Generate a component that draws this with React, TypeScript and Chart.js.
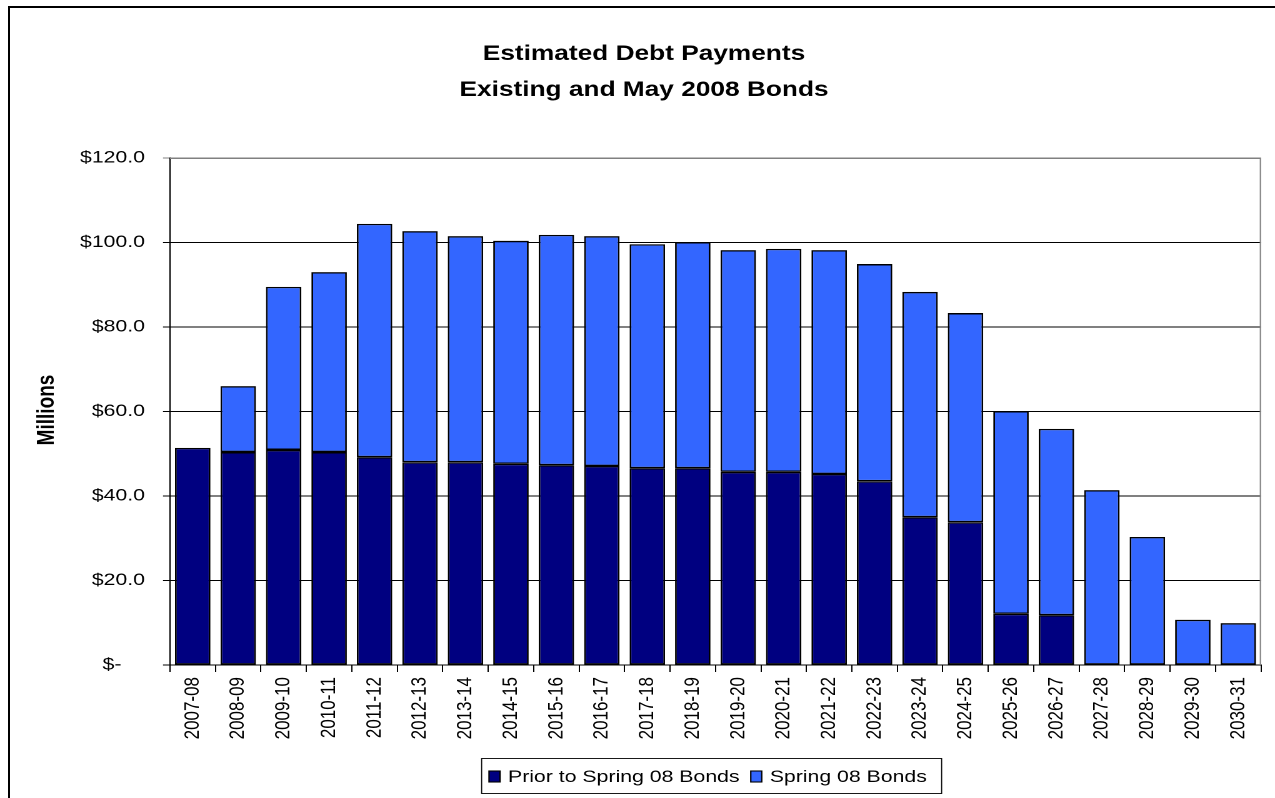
import React, { useEffect, useRef } from 'react';
import { Chart, registerables } from 'chart.js';

Chart.register(...registerables);

const categories = [
  '2007-08', '2008-09', '2009-10', '2010-11', '2011-12', '2012-13', '2013-14', '2014-15',
  '2015-16', '2016-17', '2017-18', '2018-19', '2019-20', '2020-21', '2021-22', '2022-23',
  '2023-24', '2024-25', '2025-26', '2026-27', '2027-28', '2028-29', '2029-30', '2030-31',
];
const priorBonds = [
  51.4, 50.4, 50.9, 50.4, 49.2, 48.0, 48.0, 47.6, 47.3, 47.1, 46.6, 46.6,
  45.7, 45.7, 45.2, 43.5, 35.0, 33.8, 12.1, 11.8, 0, 0, 0, 0,
];
const springBonds = [
  0, 15.6, 38.6, 42.6, 55.2, 54.7, 53.5, 52.8, 54.5, 54.4, 53.0, 53.5,
  52.5, 52.8, 53.0, 51.4, 53.3, 49.5, 48.0, 44.1, 41.4, 30.3, 10.7, 9.9,
];
const seriesNames = ['Prior to Spring 08 Bonds', 'Spring 08 Bonds'];
const seriesColors = ['#000080', '#3366FF'];
const titleLines = ['Estimated Debt Payments', 'Existing and May 2008 Bonds'];
const yAxisTitle = 'Millions';
const yMin = 0;
const yMax = 120;
const yStep = 20;

const SX = 1.25;
const W = 1020;
const H = 798;
const FONT = 'Arial, "Liberation Sans", sans-serif';

const decor = {
  id: 'decor',
  afterDraw(chart: any) {
    const ctx = chart.ctx as CanvasRenderingContext2D;
    const a = chart.chartArea;
    ctx.save();
    // plot area top/right border
    ctx.strokeStyle = '#808080';
    ctx.lineWidth = 1;
    ctx.beginPath();
    ctx.moveTo(a.left, a.top + 0.5);
    ctx.lineTo(a.right - 0.5, a.top + 0.5);
    ctx.lineTo(a.right - 0.5, a.bottom);
    ctx.stroke();

    // title
    ctx.fillStyle = '#000';
    ctx.font = `bold 21px ${FONT}`;
    ctx.textAlign = 'center';
    ctx.textBaseline = 'alphabetic';
    ctx.fillText(titleLines[0], 515.2, 60);
    ctx.fillText(titleLines[1], 515.2, 96);

    // y axis title
    ctx.save();
    ctx.translate(37.6, 410);
    ctx.rotate(-Math.PI / 2);
    ctx.font = `bold 19px ${FONT}`;
    ctx.textAlign = 'center';
    ctx.textBaseline = 'middle';
    ctx.fillText(yAxisTitle, 0, 0);
    ctx.restore();

    // legend
    const bx = 385.3, by = 758.5, bw = 368, bh = 35;
    ctx.strokeStyle = '#000';
    ctx.lineWidth = 0.9;
    ctx.strokeRect(bx, by, bw, bh);
    ctx.font = `17px ${FONT}`;
    ctx.textAlign = 'left';
    ctx.textBaseline = 'alphabetic';
    let x = 391.2;
    seriesNames.forEach((name, i) => {
      ctx.fillStyle = seriesColors[i];
      ctx.fillRect(x, 771, 8.8, 11);
      ctx.strokeStyle = '#000';
      ctx.lineWidth = 1.1;
      ctx.strokeRect(x, 771, 8.8, 11);
      ctx.fillStyle = '#000';
      ctx.fillText(name, x + 15.2, 782);
      x += 15.2 + ctx.measureText(name).width + 9;
    });
    ctx.restore();
  },
};

export default function App() {
  const ref = useRef<HTMLCanvasElement>(null);

  useEffect(() => {
    Chart.defaults.font.family = FONT;
    Chart.defaults.color = '#000';
    const chart = new Chart(ref.current as HTMLCanvasElement, {
      type: 'bar',
      data: {
        labels: categories,
        datasets: [
          {
            label: seriesNames[0],
            data: priorBonds,
            backgroundColor: seriesColors[0],
            borderColor: '#000',
            borderWidth: 1.4,
            borderSkipped: false,
            categoryPercentage: 1,
            barPercentage: 0.78,
          },
          {
            label: seriesNames[1],
            data: springBonds,
            backgroundColor: seriesColors[1],
            borderColor: '#000',
            borderWidth: 1.4,
            borderSkipped: false,
            categoryPercentage: 1,
            barPercentage: 0.78,
          },
        ],
      },
      options: {
        responsive: false,
        animation: false,
        devicePixelRatio: 2,
        layout: { padding: { left: 0, top: 158, right: W - 1008.8, bottom: 0 } },
        plugins: {
          legend: { display: false },
          title: { display: false },
          tooltip: { enabled: false },
        },
        scales: {
          x: {
            stacked: true,
            offset: true,
            grid: {
              offset: true,
              drawOnChartArea: false,
              drawTicks: true,
              tickLength: 7,
              color: '#000',
            },
            border: { color: '#000', width: 1 },
            ticks: {
              autoSkip: false,
              minRotation: 90,
              maxRotation: 90,
              padding: 5,
              font: { size: 17 },
              color: '#000',
            },
            afterFit: (scale: any) => {
              scale.height = 133;
            },
          },
          y: {
            stacked: true,
            min: yMin,
            max: yMax,
            ticks: {
              stepSize: yStep,
              padding: 14.4,
              font: { size: 17 },
              color: '#000',
              callback: (v: any) => (Number(v) === 0 ? '$-    ' : '$' + Number(v).toFixed(1)),
            },
            grid: {
              color: (c: any) => (c.tick && c.tick.value === yMax ? '#808080' : '#000'),
              tickLength: 5.6,
              lineWidth: 1,
            },
            border: { color: '#000', width: 1 },
            afterFit: (scale: any) => {
              scale.width = 136;
            },
          },
        },
      },
      plugins: [decor],
    });
    return () => chart.destroy();
  }, []);

  return (
    <div
      style={{
        position: 'fixed',
        left: 0,
        top: 0,
        width: 1275,
        height: 798,
        overflow: 'hidden',
        background: '#fff',
      }}
    >
      <div
        style={{
          position: 'absolute',
          left: 8,
          top: 6,
          width: 1400,
          height: 1000,
          borderTop: '2px solid #000',
          borderLeft: '2px solid #000',
        }}
      />
      <div
        style={{
          position: 'absolute',
          left: 0,
          top: 0,
          width: W,
          height: H,
          transform: `scaleX(${SX})`,
          transformOrigin: '0 0',
        }}
      >
        <canvas ref={ref} width={W} height={H} style={{ display: 'block', width: W, height: H }} />
      </div>
    </div>
  );
}
